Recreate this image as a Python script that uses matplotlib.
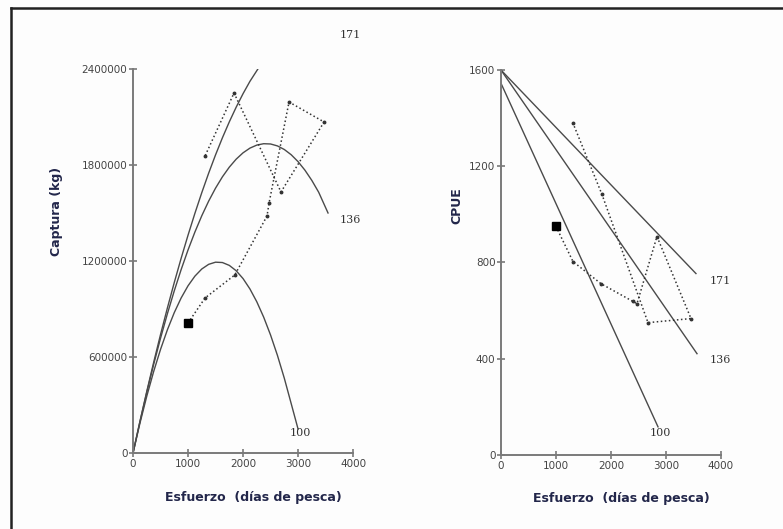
import numpy as np
import matplotlib
matplotlib.use('Agg')
import matplotlib.pyplot as plt
from matplotlib.lines import Line2D

# observed series (effort in dias de pesca)
obs_effort = [1000, 1309, 1850, 2436, 2473, 2836, 3473, 2690, 1836, 1309]
obs_catch = [812500, 968750, 1112500, 1481250, 1562500, 2193750, 2068750, 1631250, 2250000, 1856250]
obs_effort_cpue = [1000, 1309, 1818, 2400, 2473, 2836, 3455, 2673, 1836, 1309]
obs_cpue = [950, 804, 712, 638, 629, 908, 567, 550, 1083, 1379]

# model curves
effort_100 = [0, 125, 250, 375, 500, 625, 750, 875, 1000, 1125, 1250, 1375, 1500, 1625,
			  1750, 1875, 2000, 2125, 2250, 2375, 2500, 2625, 2750, 2875, 3000]
catch_100 = [0, 185300, 355000, 509060, 647500, 770300, 877500, 969060, 1045000, 1105300,
			 1150000, 1179060, 1192500, 1190300, 1172500, 1139060, 1090000, 1025300, 945000,
			 849060, 737500, 610300, 467500, 309060, 150000]
effort_136 = [0, 125, 250, 375, 500, 625, 750, 875, 1000, 1125, 1250, 1375, 1500, 1625,
			  1750, 1875, 2000, 2125, 2250, 2375, 2500, 2625, 2750, 2875, 3000, 3125, 3250,
			  3375, 3545]
catch_136 = [0, 194830, 379300, 553450, 717250, 870700, 1013800, 1146580, 1269000, 1381080,
			 1482800, 1574200, 1655250, 1725950, 1786300, 1836330, 1876000, 1905330, 1924300,
			 1932950, 1931250, 1919200, 1896800, 1864080, 1821000, 1767580, 1703800, 1629700,
			 1500000]
effort_171 = [0, 125, 250, 375, 500, 625, 750, 875, 1000, 1125, 1250, 1375, 1500, 1625,
			  1750, 1875, 2000, 2125, 2270]
catch_171 = [0, 196270, 385100, 566450, 740350, 906800, 1065800, 1217320, 1361400, 1498020,
			 1627200, 1748900, 1863150, 1969950, 2069300, 2161170, 2245600, 2322570, 2400000]

line_effort = {'100': [0, 2855], '136': [0, 3564], '171': [0, 3545]}
line_cpue = {'100': [1545, 117], '136': [1600, 421], '171': [1600, 754]}

catch_ticks = [0, 600000, 1200000, 1800000, 2400000]
cpue_ticks = [0, 400, 800, 1200, 1600]
effort_ticks = [0, 1000, 2000, 3000, 4000]

curve_col = '#4a4a4a'
axis_col = '#7a7a7a'
label_col = '#22264a'


def style_axis(ax):
	for s in ['top', 'right']:
		ax.spines[s].set_visible(False)
	for s in ['left', 'bottom']:
		ax.spines[s].set_color(axis_col)
		ax.spines[s].set_linewidth(1.4)
	ax.tick_params(direction='inout', length=6, width=1.2, color=axis_col,
				   labelsize=7.5, labelcolor='#444444', pad=1)
	ax.set_facecolor('none')


fig = plt.figure(figsize=(7.83, 5.29), dpi=100)
fig.patch.set_facecolor('#fdfdfd')

# left panel: captura
ax1 = fig.add_axes([0.1699, 0.1437, 0.2810, 0.7259])
ax1.plot(effort_100, catch_100, color=curve_col, lw=1)
ax1.plot(effort_136, catch_136, color=curve_col, lw=1)
ax1.plot(effort_171, catch_171, color=curve_col, lw=1)
ax1.plot(obs_effort, obs_catch, ls=':', color='#333333', lw=1.1, marker='o', ms=1.8)
ax1.plot(obs_effort[0], obs_catch[0], 's', color='black', ms=6)
ax1.set_xlim(0, 4000)
ax1.set_ylim(0, 2400000)
ax1.set_xticks(effort_ticks)
ax1.set_yticks(catch_ticks)
ax1.set_yticklabels([str(t) for t in catch_ticks])
style_axis(ax1)
ax1.set_ylabel('Captura (kg)', fontsize=9, fontweight='bold', color=label_col)
ax1.yaxis.set_label_coords(-0.318, 0.628)
ax1.set_xlabel('Esfuerzo  (días de pesca)', fontsize=9, fontweight='bold', color=label_col)
ax1.xaxis.set_label_coords(0.548, -0.10)
for txt, xy in [('171', (3945, 2612500)), ('136', (3945, 1456000)), ('100', (3036, 125000))]:
	ax1.text(xy[0], xy[1], txt, fontsize=8, family='DejaVu Serif', color='#333333',
			 ha='center', va='center', clip_on=False)

# right panel: CPUE
ax2 = fig.add_axes([0.6398, 0.1399, 0.2810, 0.7278])
for k in ['100', '136', '171']:
	ax2.plot(line_effort[k], line_cpue[k], color=curve_col, lw=1)
ax2.plot(obs_effort_cpue, obs_cpue, ls=':', color='#333333', lw=1.1, marker='o', ms=1.8)
ax2.plot(obs_effort_cpue[0], obs_cpue[0], 's', color='black', ms=6)
ax2.set_xlim(0, 4000)
ax2.set_ylim(0, 1600)
ax2.set_xticks(effort_ticks)
ax2.set_yticks(cpue_ticks)
style_axis(ax2)
ax2.set_ylabel('CPUE', fontsize=9, fontweight='bold', color=label_col)
ax2.yaxis.set_label_coords(-0.173, 0.647)
ax2.set_xlabel('Esfuerzo  (días de pesca)', fontsize=9, fontweight='bold', color=label_col)
ax2.xaxis.set_label_coords(0.545, -0.096)
for txt, xy in [('171', (3982, 725)), ('136', (3982, 396)), ('100', (2891, 92))]:
	ax2.text(xy[0], xy[1], txt, fontsize=8, family='DejaVu Serif', color='#333333',
			 ha='center', va='center', clip_on=False)

# frame lines (top and left of the original picture)
fig.add_artist(Line2D([11 / 783, 1], [1 - 8 / 529, 1 - 8 / 529], color='#222222', lw=1.8))
fig.add_artist(Line2D([11 / 783, 11 / 783], [0, 1 - 8 / 529], color='#222222', lw=1.8))

fig.savefig('out.png', dpi=100, facecolor=fig.get_facecolor())
